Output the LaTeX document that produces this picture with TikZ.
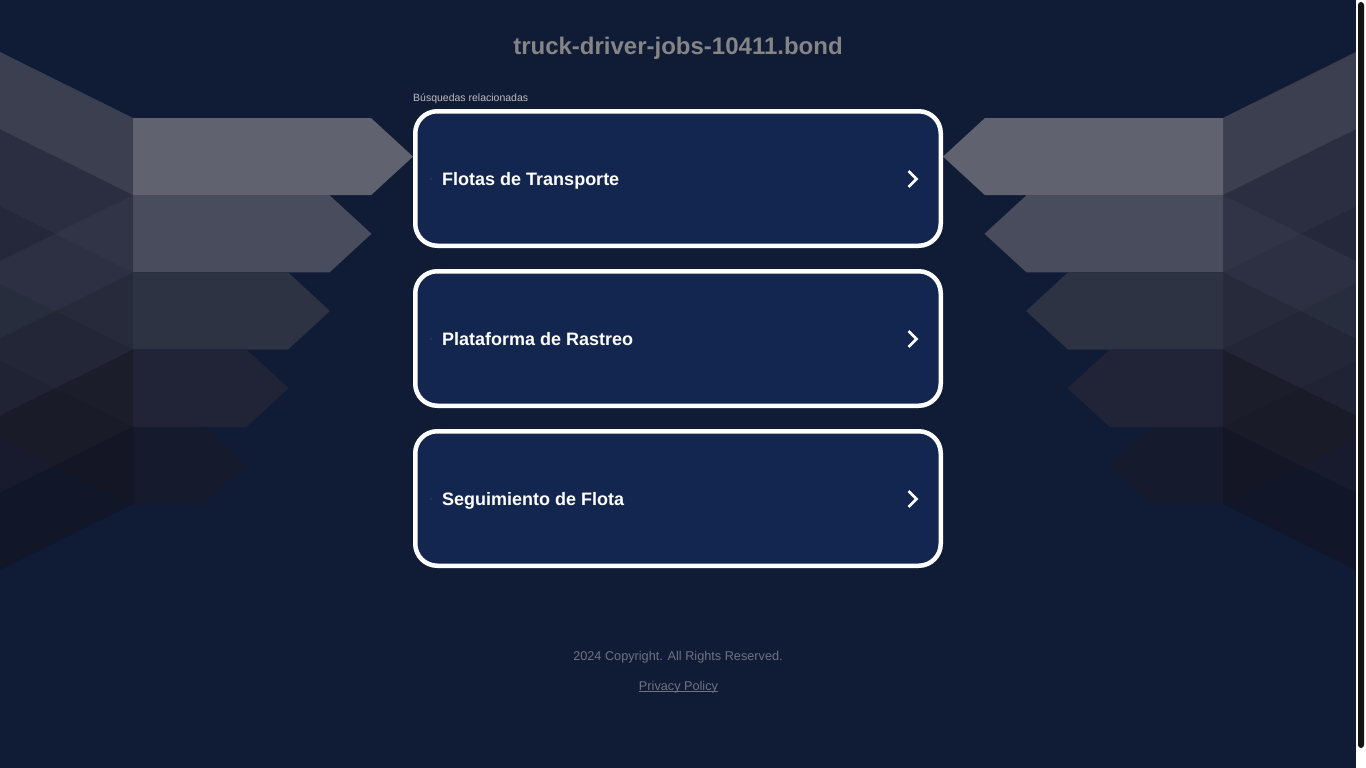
\documentclass[tikz,border=0pt]{standalone}
\usepackage{fontspec}
\setmainfont{Liberation Sans}
\definecolor{bgc}{HTML}{101B36}
\definecolor{cardc}{HTML}{12264F}
\definecolor{titlec}{HTML}{858585}
\definecolor{smallc}{HTML}{BDBDBD}
\definecolor{footc}{HTML}{6E7382}
\definecolor{dotc}{HTML}{4A5878}
\definecolor{r0}{HTML}{60636F}
\definecolor{r1}{HTML}{484C5C}
\definecolor{r2}{HTML}{2E3344}
\definecolor{r3}{HTML}{202436}
\definecolor{r4}{HTML}{151A2D}
\definecolor{u0}{RGB}{88,87,97}
\definecolor{u1}{RGB}{61,60,71}
\definecolor{u2}{RGB}{51,50,61}
\definecolor{u3}{RGB}{39,39,49}
\definecolor{u4}{RGB}{29,29,41}
\definecolor{d1}{RGB}{58,62,79}
\definecolor{d2}{RGB}{42,45,60}
\definecolor{d3}{RGB}{28,27,39}
\definecolor{d4}{RGB}{19,19,31}
\tikzset{
  card/.style={draw=white, line width=4.5pt, fill=cardc, rounded corners=22pt,
    minimum width=525.5pt, minimum height=134.5pt, inner sep=0pt},
  cardtext/.style={anchor=base west, inner sep=0pt, text=white,
    font=\bfseries\fontsize{18}{22}\selectfont},
  chev/.style={draw=white, line width=2.6pt, line cap=butt, line join=miter},
  foldalpha/.style={fill opacity=0.6},
}
\newcommand\mywing{%
  \foreach \i/\uc/\rc in {0/u0/r0,1/u1/r1,2/u2/r2,3/u3/r3,4/u4/r4}{%
    \pgfmathsetmacro\yt{118+77.2*\i}%
    \pgfmathsetmacro\yb{\yt+77.2}%
    \pgfmathsetmacro\ym{\yt+38.6}%
    \pgfmathsetmacro\be{371-41.5*\i}%
    \pgfmathsetmacro\tp{\be+42}%
    \fill[\uc, foldalpha] (0,{\yt-66}) -- (133,\yt) -- (133,\yb) -- (0,{\yb-66}) -- cycle;
    \fill[\rc] (133,\yt) -- (\be,\yt) -- (\tp,\ym) -- (\be,\yb) -- (133,\yb) -- cycle;
  }%
  \foreach \i/\dc/\da in {1/d1/0.4,2/d2/0.45,3/d3/0.6,4/d4/0.6}{%
    \pgfmathsetmacro\yt{118+77.2*\i}%
    \pgfmathsetmacro\yb{\yt+77.2}%
    \fill[\dc, fill opacity=\da] (133,\yt) -- (0,{\yt+66}) -- (0,{\yb+66}) -- (133,\yb) -- cycle;
  }%
}
\begin{document}
\begin{tikzpicture}[x=1pt,y=-1pt]
\useasboundingbox (0,0) rectangle (1366,768);
\fill[bgc] (0,0) rectangle (1366,768);
% wings
\begin{scope}
  \mywing
\end{scope}
\begin{scope}[xshift=1356pt,xscale=-1]
  \mywing
\end{scope}
% title
\node[anchor=base, inner sep=0pt, text=titlec, font=\bfseries\fontsize{24}{28}\selectfont] (title) at (678,55) {truck-driver-jobs-10411.bond};
\node[anchor=base west, inner sep=0pt, text=smallc, font=\fontsize{10.5}{12}\selectfont] (rel) at (413,101.7) {Búsquedas relacionadas};
% cards
\node[card] (c1) at (678,178.5) {};
\node[card] (c2) at (678,338.5) {};
\node[card] (c3) at (678,498.5) {};
\node[cardtext] (t1) at (442,185.5) {Flotas de Transporte};
\node[cardtext] (t2) at (442,345.5) {Plataforma de Rastreo};
\node[cardtext] (t3) at (442,505.5) {Seguimiento de Flota};
\foreach \yc in {179,339,499}{
  \fill[dotc] (431,\yc) circle (0.7);
  \draw[chev] (908.5,{\yc-8}) -- (916.5,\yc) -- (908.5,{\yc+8});
}
% footer
\node[anchor=base, inner sep=0pt, text=footc, font=\fontsize{12.7}{15}\selectfont] (copy) at (678,660) {2024 Copyright. All Rights Reserved.};
\node[anchor=base, inner sep=0pt, text=footc, font=\fontsize{12.7}{15}\selectfont] (pp) at (678.5,690) {Privacy Policy};
\draw[footc, line width=0.9pt] ([yshift=-1.6pt]pp.base west) -- ([yshift=-1.6pt]pp.base east);
% scrollbar
\fill[white] (1356,0) rectangle (1366,768);
\fill[black!92, rounded corners=3pt] (1358,2) rectangle (1364,748);
\end{tikzpicture}
\end{document}
